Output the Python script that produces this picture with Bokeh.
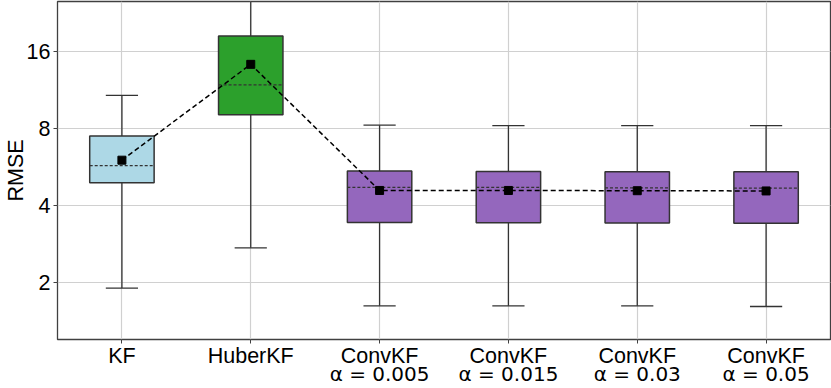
import numpy as np
from bokeh.plotting import figure
from bokeh.models import Range1d, FixedTicker, LinearAxis
from bokeh.embed import file_html
from bokeh.resources import INLINE

# ---- data ----
categories = ["KF", "HuberKF", "ConvKF", "ConvKF", "ConvKF", "ConvKF"]
alpha_labels = ["", "", "α = 0.005", "α = 0.015", "α = 0.03", "α = 0.05"]
lower_whisker = [1.90, 2.73, 1.62, 1.62, 1.62, 1.61]
q1 = [4.90, 9.03, 3.43, 3.42, 3.41, 3.40]
median = [5.71, 11.8, 4.70, 4.70, 4.68, 4.67]
q3 = [7.45, 18.3, 5.44, 5.42, 5.41, 5.41]
upper_whisker = [10.75, 40.0, 8.22, 8.19, 8.19, 8.19]
mean = [6.00, 14.2, 4.57, 4.57, 4.56, 4.55]
box_colors = ["#add8e6", "#2ca02c", "#9467bd", "#9467bd", "#9467bd", "#9467bd"]
y_ticks = [2, 4, 8, 16]
y_tick_labels = ["2", "4", "8", "16"]

x = np.arange(1, len(categories) + 1)
box_w = 0.5
cap_w = 0.25

FONT = "Liberation Sans"
FS = "21.5px"

p = figure(width=831, height=388,
           x_range=Range1d(0.5, 6.5), y_range=Range1d(1.197, 24.98),
           y_axis_type="log", output_backend="svg", toolbar_location=None,
           min_border_left=0, min_border_right=1, min_border_top=1,
           min_border_bottom=0)

p.background_fill_color = "white"
p.border_fill_color = "white"
p.outline_line_color = "#404040"
p.outline_line_width = 1.3

# grid
p.grid.grid_line_color = "#d0d0d0"
p.grid.grid_line_width = 1.2

# x axis (first line)
xa = p.xaxis[0]
xa.ticker = FixedTicker(ticks=list(x))
xa.major_label_overrides = {int(i): c for i, c in zip(x, categories)}
xa.major_label_text_font = FONT
xa.major_label_text_font_size = FS
xa.major_label_text_color = "black"
xa.axis_line_color = None
xa.minor_tick_line_color = None
xa.major_tick_line_color = "#404040"
xa.major_tick_in = 0
xa.major_tick_out = 4
xa.major_label_standoff = 0

# x axis second line (alpha values)
xa2 = LinearAxis(ticker=FixedTicker(ticks=list(x)),
                 major_label_overrides={int(i): a for i, a in zip(x, alpha_labels)})
xa2.major_label_text_font = "DejaVu Sans"
xa2.major_label_text_font_size = "20px"
xa2.major_label_text_color = "black"
xa2.axis_line_color = None
xa2.major_tick_line_color = None
xa2.minor_tick_line_color = None
xa2.major_tick_in = 0
xa2.major_tick_out = 0
xa2.major_label_standoff = -9
p.add_layout(xa2, "below")

# y axis
ya = p.yaxis[0]
ya.ticker = FixedTicker(ticks=y_ticks)
ya.major_label_overrides = {t: l for t, l in zip(y_ticks, y_tick_labels)}
ya.major_label_text_font = FONT
ya.major_label_text_font_size = FS
ya.major_label_text_color = "black"
ya.axis_line_color = None
ya.minor_tick_line_color = None
ya.major_tick_line_color = "#404040"
ya.major_tick_in = 0
ya.major_tick_out = 4
ya.major_label_standoff = 3
ya.axis_label = "RMSE"
ya.axis_label_text_font = FONT
ya.axis_label_text_font_size = FS
ya.axis_label_text_font_style = "normal"
ya.axis_label_text_color = "black"
ya.axis_label_standoff = -4

edge = "#333333"

# whiskers
p.segment(x0=x, y0=q3, x1=x, y1=upper_whisker, line_color=edge, line_width=1.3)
p.segment(x0=x, y0=q1, x1=x, y1=lower_whisker, line_color=edge, line_width=1.3)
# caps
p.segment(x0=x - cap_w / 2, y0=upper_whisker, x1=x + cap_w / 2, y1=upper_whisker,
          line_color=edge, line_width=1.3)
p.segment(x0=x - cap_w / 2, y0=lower_whisker, x1=x + cap_w / 2, y1=lower_whisker,
          line_color=edge, line_width=1.3)
# boxes
p.vbar(x=x, width=box_w, bottom=q1, top=q3, fill_color=box_colors,
       line_color=edge, line_width=1.5)
# medians
p.segment(x0=x - box_w / 2, y0=median, x1=x + box_w / 2, y1=median,
          line_color="#333333", line_width=1.2, line_dash="3 2")
# means
p.line(x=x, y=mean, line_color="black", line_width=1.5, line_dash="5 3")
p.scatter(x=x, y=mean, marker="square", size=8, fill_color="black", line_color="black")

open("out.html", "w").write(file_html(p, INLINE))
